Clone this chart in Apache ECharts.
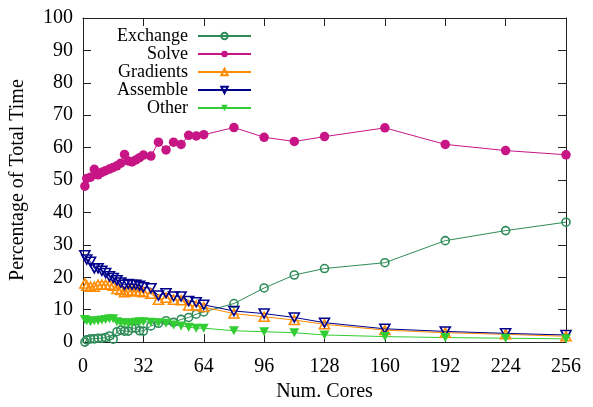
<!DOCTYPE html>
<html>
<head>
<meta charset="utf-8">
<script src="https://cdn.jsdelivr.net/npm/echarts@6/dist/echarts.min.js"></script>
<style>
  html, body { margin: 0; padding: 0; background: #fff; }
  #chart { width: 593px; height: 407px; }
</style>
</head>
<body>
<div id="chart"></div>
<script>
// Core counts used for each timing run
const cores = [1, 2, 4, 6, 8, 10, 12, 14, 16, 18, 20, 22, 24, 26, 28, 30, 32,
  36, 40, 44, 48, 52, 56, 60, 64, 80, 96, 112, 128, 160, 192, 224, 256];

// Share of total run time (%) spent in each phase
const exchange = [0.0, 0.7, 1.0, 1.0, 1.2, 1.2, 1.4, 1.9, 0.9, 3.2, 3.7, 3.4, 3.4, 4.3, 4.3, 3.5, 3.4,
  5.0, 5.8, 6.6, 6.1, 7.0, 7.6, 8.6, 9.3, 11.9, 16.7, 20.7, 22.7, 24.5, 31.3, 34.4, 37.0];
const solve = [48.1, 50.5, 50.9, 53.3, 51.6, 52.4, 52.9, 53.4, 53.9, 54.4, 55.2, 57.9, 55.9, 55.6, 56.2, 56.9, 57.7,
  57.4, 61.7, 59.3, 61.7, 61.0, 63.8, 63.6, 64.0, 66.2, 63.2, 61.9, 63.4, 66.1, 61.0, 59.1, 57.8];
const gradients = [18.1, 17.4, 17.1, 17.1, 17.7, 17.7, 17.7, 17.7, 17.4, 16.4, 16.1, 15.4, 15.9, 15.7, 15.7, 15.7, 15.4,
  14.9, 13.1, 13.7, 13.1, 12.9, 11.3, 11.3, 10.8, 8.8, 7.8, 6.8, 5.5, 3.7, 2.9, 2.4, 1.8];
const assemble = [26.8, 25.5, 24.8, 22.8, 22.8, 22.0, 21.3, 20.3, 19.8, 19.1, 18.4, 17.7, 17.9, 17.7, 17.7, 17.4, 16.9,
  16.6, 14.4, 15.1, 14.1, 14.1, 12.7, 12.3, 11.5, 9.6, 8.8, 7.6, 6.0, 4.1, 3.3, 2.7, 2.2];
const other = [7.0, 6.6, 6.3, 6.6, 6.6, 6.8, 7.0, 7.2, 7.2, 6.3, 6.0, 6.0, 5.8, 6.0, 6.1, 6.3, 6.3,
  6.1, 6.0, 5.8, 5.3, 5.0, 4.6, 4.3, 4.3, 3.5, 3.2, 2.9, 2.2, 1.7, 1.4, 1.2, 1.0];

const xTicks = { min: 0, max: 256, interval: 32 };
const yTicks = { min: 0, max: 100, interval: 10 };

const FONT = 'Liberation Serif';
const FRAME = '#222';
const DOWN_TRI = 'path://M0,0L10,0L5,9Z';
const UP_TRI = 'path://M5,0L10,9L0,9Z';

function pairs(values) {
  return cores.map((c, i) => [c, values[i]]);
}

function phase(name, values, color, symbol, size, hollow) {
  return {
    name: name,
    type: 'line',
    data: pairs(values),
    symbol: symbol,
    symbolSize: size,
    showAllSymbol: true,
    animation: false,
    lineStyle: { color: color, width: 1 },
    itemStyle: hollow
      ? { color: 'rgba(255,255,255,0)', borderColor: color, borderWidth: 1.6 }
      : { color: color, borderWidth: 0 },
    emphasis: { disabled: true }
  };
}

// Boxed frame: every side carries inward ticks, only bottom/left get labels
function frameAxis(pos, ticks, extra) {
  return Object.assign({
    type: 'value',
    position: pos,
    min: ticks.min,
    max: ticks.max,
    interval: ticks.interval,
    axisLine: { show: true, onZero: false, lineStyle: { color: FRAME, width: 1 } },
    axisTick: { show: true, inside: true, length: 8, lineStyle: { color: FRAME, width: 1 } },
    axisLabel: { show: false },
    splitLine: { show: false }
  }, extra || {});
}

const chart = echarts.init(document.getElementById('chart'), null, { renderer: 'canvas' });

chart.setOption({
  backgroundColor: '#fff',
  animation: false,
  textStyle: { fontFamily: FONT },
  grid: { left: 82, right: 27, top: 18, bottom: 60 },
  legend: {
    orient: 'vertical',
    left: 116,
    top: 27,
    padding: 0,
    align: 'right',
    itemWidth: 53,
    itemHeight: 8,
    itemGap: 0,
    selectedMode: false,
    data: ['Exchange', 'Solve', 'Gradients', 'Assemble', 'Other'],
    formatter: name => '{n|' + name + '}',
    textStyle: {
      rich: {
        n: {
          fontFamily: FONT, fontSize: 18, color: '#000',
          width: 72, align: 'right', lineHeight: 14.3, padding: [0, 5, 0, 0]
        }
      }
    }
  },
  xAxis: [
    frameAxis('bottom', xTicks, {
      axisLabel: { show: true, margin: 15, fontFamily: FONT, fontSize: 20, color: '#000' },
      name: 'Num. Cores',
      nameLocation: 'middle',
      nameGap: 39,
      nameTextStyle: { fontFamily: FONT, fontSize: 20, color: '#000' }
    }),
    frameAxis('top', xTicks)
  ],
  yAxis: [
    frameAxis('left', yTicks, {
      axisLabel: { show: true, margin: 10, fontFamily: FONT, fontSize: 20, color: '#000' },
      name: 'Percentage of Total Time',
      nameLocation: 'middle',
      nameGap: 55,
      nameTextStyle: { fontFamily: FONT, fontSize: 20, color: '#000' }
    }),
    frameAxis('right', yTicks)
  ],
  series: [
    phase('Exchange', exchange, '#2e8b57', 'circle', 8, true),
    phase('Solve', solve, '#c71585', 'circle', 9.5, false),
    phase('Gradients', gradients, '#ff8c00', UP_TRI, [10, 9], true),
    phase('Assemble', assemble, '#00008b', DOWN_TRI, [10, 9], true),
    phase('Other', other, '#32cd32', DOWN_TRI, [10, 9], false)
  ]
});
</script>
</body>
</html>
